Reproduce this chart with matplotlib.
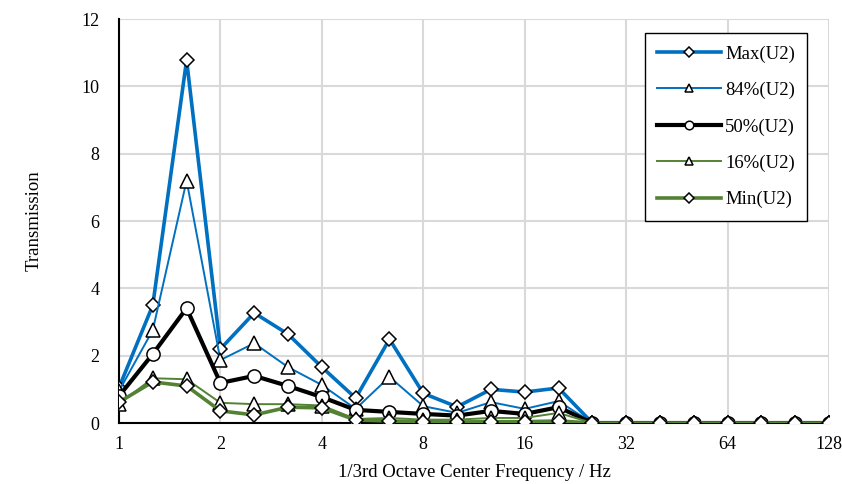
import numpy as np
import matplotlib
matplotlib.use("Agg")
import matplotlib.pyplot as plt

plt.rcParams['font.family'] = ['Liberation Serif', 'DejaVu Serif']

# 1/3 octave centre frequencies, 1 Hz .. 128 Hz
freq = 2.0 ** (np.arange(22) / 3.0)

max_u2 = [1.05, 3.5, 10.78, 2.2, 3.27, 2.64, 1.66, 0.74, 2.49, 0.88, 0.48, 1.0, 0.92, 1.04,
          0, 0, 0, 0, 0, 0, 0, 0]
p84_u2 = [0.95, 2.76, 7.2, 1.87, 2.37, 1.66, 1.13, 0.42, 1.37, 0.5, 0.3, 0.62, 0.42, 0.65,
          0, 0, 0, 0, 0, 0, 0, 0]
p50_u2 = [0.8, 2.05, 3.41, 1.19, 1.4, 1.1, 0.77, 0.39, 0.33, 0.27, 0.22, 0.36, 0.27, 0.47,
          0, 0, 0, 0, 0, 0, 0, 0]
p16_u2 = [0.57, 1.33, 1.3, 0.6, 0.56, 0.56, 0.52, 0.12, 0.15, 0.1, 0.1, 0.15, 0.15, 0.3,
          0, 0, 0, 0, 0, 0, 0, 0]
min_u2 = [0.62, 1.22, 1.1, 0.36, 0.24, 0.47, 0.45, 0.09, 0.06, 0.04, 0.03, 0.04, 0.04, 0.06,
          0, 0, 0, 0, 0, 0, 0, 0]

labels = ['Max(U2)', '84%(U2)', '50%(U2)', '16%(U2)', 'Min(U2)']
series = [max_u2, p84_u2, p50_u2, p16_u2, min_u2]
colors = ['#0070c0', '#0070c0', 'black', '#548235', '#548235']
widths = [2.6, 1.4, 3.0, 1.4, 2.6]
markers = ['D', '^', 'o', '^', 'D']
msizes = [7.5, 9.5, 9.5, 9.5, 7.5]

fig = plt.figure(figsize=(8.42, 4.84), dpi=100)
ax = fig.add_axes([0.1413, 0.126, 0.8433, 0.8347])

for y, lab, c, lw, m, ms in zip(series, labels, colors, widths, markers, msizes):
    ax.plot(freq, y, color=c, lw=lw, marker=m, ms=ms, mfc='white', mec='black',
            mew=1.1, label=lab, zorder=3)

ax.set_xscale('log', base=2)
ax.set_xlim(1, 128)
ax.set_ylim(0, 12)
xt = [1, 2, 4, 8, 16, 32, 64, 128]
ax.set_xticks(xt)
ax.set_xticklabels([str(v) for v in xt])
ax.minorticks_off()
ax.set_yticks(np.arange(0, 13, 2))
ax.tick_params(length=0, labelsize=13)
ax.tick_params(axis='y', pad=14)
ax.tick_params(axis='x', pad=9)
ax.grid(True, color='#d9d9d9', lw=1.5)
ax.set_axisbelow(True)
for s in ['top', 'right']:
    ax.spines[s].set_visible(False)
for s in ['left', 'bottom']:
    ax.spines[s].set_linewidth(1.5)

ax.set_xlabel('1/3rd Octave Center Frequency / Hz', fontsize=13.5, labelpad=8)
ax.set_ylabel('Transmission', fontsize=13.5, labelpad=28)

leg = ax.legend(loc='upper right', bbox_to_anchor=(0.969, 0.965), fontsize=13.5,
                handlelength=3.4, handletextpad=0.2, labelspacing=1.02,
                borderpad=0.65, markerscale=0.65, fancybox=False, framealpha=1,
                edgecolor='black', borderaxespad=0)
leg.get_frame().set_linewidth(1.0)

fig.savefig('out.png', dpi=100)
